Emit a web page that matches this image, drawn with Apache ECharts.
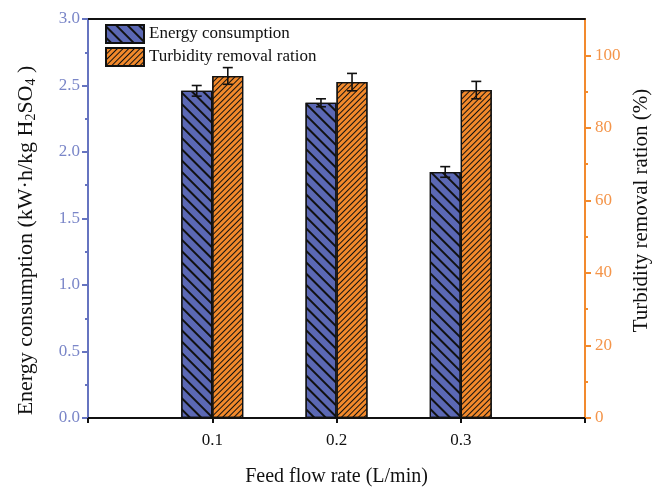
<!DOCTYPE html>
<html>
<head>
<meta charset="utf-8">
<script src="https://cdn.jsdelivr.net/npm/echarts@6/dist/echarts.min.js"></script>
<style>html,body{margin:0;padding:0;background:#fff}#c{width:662px;height:489px}</style>
</head>
<body>
<div id="c"></div>
<script>
const categories = ['', '0.1', '0.2', '0.3', ''];
const energy = [null, 2.46, 2.37, 1.85, null];
const energyErr = [null, 0.04, 0.03, 0.04, null];
const turbidity = [null, 94.3, 92.6, 90.4, null];
const turbidityErr = [null, 2.3, 2.4, 2.4, null];
const rightMajor = [0, 20, 40, 60, 80, 100];
const rightMinor = [10, 30, 50, 70, 90];

const BLUE = '#5b68b4', ORANGE = '#f2892b';
const BLUE_AX = '#6674c0', ORANGE_AX = '#f28a2e';
const FONT = 'Liberation Serif';

function errData(vals, errs) {
  const out = [];
  vals.forEach((v, i) => { if (v != null) out.push([i, v + errs[i], v - errs[i]]); });
  return out;
}
function errRender(sign) {
  return function (params, api) {
    const i = api.value(0);
    const hi = api.coord([i, api.value(1)]);
    const lo = api.coord([i, api.value(2)]);
    const band = api.size([1, 0])[0];
    const x = hi[0] + sign * band * 0.125;
    const hw = 5;
    const st = { stroke: '#111', lineWidth: 1.6 };
    return { type: 'group', children: [
      { type: 'line', shape: { x1: x, y1: hi[1], x2: x, y2: lo[1] }, style: st },
      { type: 'line', shape: { x1: x - hw, y1: hi[1], x2: x + hw, y2: hi[1] }, style: st },
      { type: 'line', shape: { x1: x - hw, y1: lo[1], x2: x + hw, y2: lo[1] }, style: st }
    ]};
  };
}

const chart = echarts.init(document.getElementById('c'));
chart.setOption({
  animation: false,
  textStyle: { fontFamily: FONT },
  grid: { left: 88, right: 77, top: 19, bottom: 71, outerBoundsMode: 'none', containLabel: false },
  legend: {
    orient: 'vertical', left: 100, top: 19, itemWidth: 38, itemHeight: 18, itemGap: 3,
    icon: 'rect',
    textStyle: { fontFamily: FONT, fontSize: 17, color: '#111' },
    data: ['Energy consumption', 'Turbidity removal ration']
  },
  xAxis: [{
    type: 'category', data: categories, boundaryGap: false,
    name: 'Feed flow rate (L/min)', nameLocation: 'middle', nameGap: 49,
    nameTextStyle: { fontFamily: FONT, fontSize: 20, color: '#111' },
    axisLine: { onZero: false, lineStyle: { color: '#111', width: 2 } },
    axisTick: { show: true, interval: 0, length: 5, lineStyle: { color: '#111', width: 2 } },
    axisLabel: { interval: 0, margin: 14, fontFamily: FONT, fontSize: 17, color: '#111' },
    splitLine: { show: false }
  }, {
    type: 'category', data: categories, boundaryGap: false, position: 'top',
    axisLine: { show: true, onZero: false, lineStyle: { color: '#111', width: 2 } },
    axisTick: { show: false }, axisLabel: { show: false }, splitLine: { show: false }
  }],
  yAxis: [{
    type: 'value', min: 0, max: 3, interval: 0.5, position: 'left',
    name: '{a|Energy consumption (kW·h/kg H}{s|2}{a|SO}{s|4}{a| )}',
    nameLocation: 'middle', nameGap: 50,
    nameTextStyle: { padding: [0, 44, 0, 0], rich: {
      a: { fontFamily: FONT, fontSize: 22, color: '#111' },
      s: { fontFamily: FONT, fontSize: 14, color: '#111', padding: [10, 0, 0, 0] }
    } },
    axisLine: { show: true, onZero: false, lineStyle: { color: BLUE_AX, width: 2 } },
    axisTick: { show: true, inside: false, length: 6, lineStyle: { color: BLUE_AX, width: 2 } },
    minorTick: { show: true, splitNumber: 2, length: 3, lineStyle: { color: BLUE_AX, width: 2 } },
    axisLabel: { fontFamily: FONT, fontSize: 17, color: '#7a86c8', margin: 8,
      formatter: v => v.toFixed(1) },
    splitLine: { show: false }
  }, {
    type: 'value', min: 0, max: 110, interval: 20, position: 'right',
    name: 'Turbidity removal ration (%)', nameLocation: 'middle', nameGap: 46, nameRotate: 90,
    nameTextStyle: { fontFamily: FONT, fontSize: 21, color: '#111', padding: [0, 0, 0, 16] },
    axisLine: { show: true, onZero: false, lineStyle: { color: ORANGE_AX, width: 2 } },
    axisTick: { show: true, inside: false, length: 6, customValues: rightMajor, lineStyle: { color: ORANGE_AX, width: 2 } },
    axisLabel: { customValues: rightMajor, fontFamily: FONT, fontSize: 17, color: '#f4954a', margin: 10 },
    splitLine: { show: false }
  }, {
    type: 'value', min: 0, max: 110, position: 'right',
    axisLine: { show: true, onZero: false, lineStyle: { color: ORANGE_AX, width: 2 } },
    axisTick: { show: true, inside: false, length: 3, customValues: rightMinor, lineStyle: { color: ORANGE_AX, width: 2 } },
    axisLabel: { show: false }, splitLine: { show: false }
  }],
  series: [{
    name: 'Energy consumption', type: 'bar', yAxisIndex: 0, data: energy,
    barWidth: 31, barGap: '0%',
    itemStyle: { color: BLUE, borderColor: '#111', borderWidth: 1.2,
      decal: { symbol: 'rect', color: '#111', dashArrayX: [1, 0], dashArrayY: [1.3, 6], rotation: Math.PI / 4, symbolSize: 1 } }
  }, {
    name: 'Turbidity removal ration', type: 'bar', yAxisIndex: 1, data: turbidity,
    barWidth: 31, barGap: '0%',
    itemStyle: { color: ORANGE, borderColor: '#111', borderWidth: 1.2,
      decal: { symbol: 'rect', color: '#111', dashArrayX: [1, 0], dashArrayY: [1, 2.8], rotation: -Math.PI / 4, symbolSize: 1 } }
  }, {
    type: 'custom', yAxisIndex: 0, data: errData(energy, energyErr), renderItem: errRender(-1), z: 10, silent: true
  }, {
    type: 'custom', yAxisIndex: 1, data: errData(turbidity, turbidityErr), renderItem: errRender(1), z: 10, silent: true
  }]
});
</script>
</body>
</html>
